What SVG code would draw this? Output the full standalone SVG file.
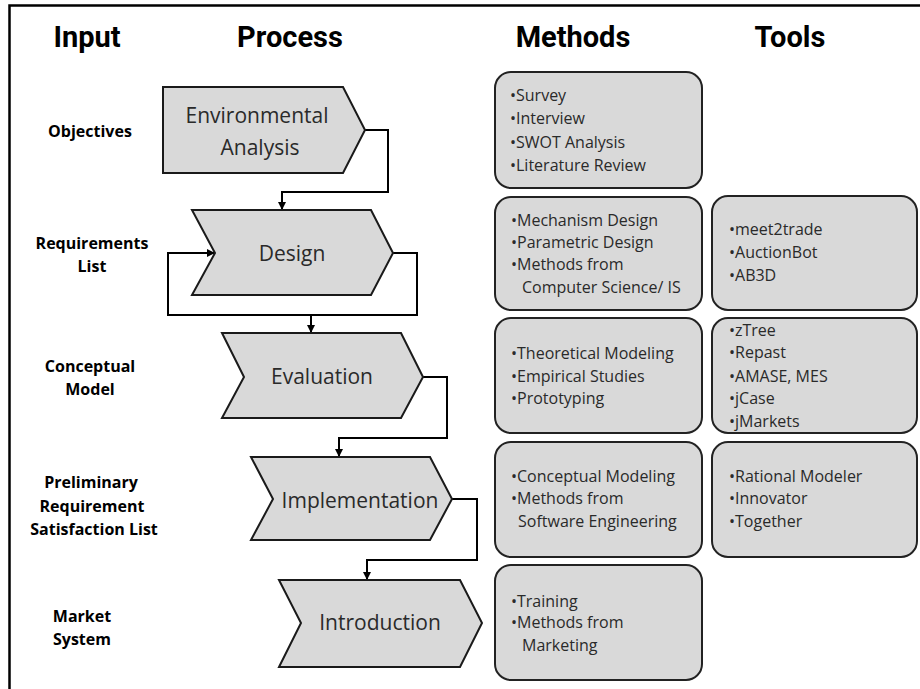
<svg xmlns="http://www.w3.org/2000/svg" width="920" height="689" viewBox="0 0 920 689">
<defs>
<marker id="arr" viewBox="0 0 10 10" refX="10" refY="5" markerWidth="8" markerHeight="8" markerUnits="userSpaceOnUse" orient="auto">
<path d="M0,0 L10,5 L0,10 z" fill="#000"/>
</marker>
</defs>
<style>
.hdr{font-family:Roboto,"Liberation Sans",sans-serif;font-weight:bold;font-size:29px;fill:#000;text-anchor:middle}
.lbl{font-family:"Open Sans","DejaVu Sans",sans-serif;font-weight:bold;font-size:16px;fill:#000;text-anchor:middle}
.proc{fill:#d9d9d9;stroke:#1a1a1a;stroke-width:2;stroke-linejoin:miter}
.ptxt{font-family:"Open Sans","DejaVu Sans",sans-serif;font-size:21px;fill:#2a2a2a;text-anchor:middle}
.box{fill:#d9d9d9;stroke:#222;stroke-width:2}
.btxt{font-family:"Open Sans","DejaVu Sans",sans-serif;font-size:16px;fill:#2a2a2a}
.con{fill:none;stroke:#000;stroke-width:2}
</style>
<rect width="920" height="689" fill="#fff"/>
<path d="M9.5,689 V5.5 H920" fill="none" stroke="#000" stroke-width="2.5"/>

<g id="headers">
<text class="hdr" x="87" y="47">Input</text>
<text class="hdr" x="290" y="47">Process</text>
<text class="hdr" x="573" y="47">Methods</text>
<text class="hdr" x="790" y="47">Tools</text>
</g>

<g id="inputs">
<text class="lbl" x="90" y="137">Objectives</text>
<text class="lbl" x="92" y="249">Requirements</text>
<text class="lbl" x="92" y="272">List</text>
<text class="lbl" x="90" y="372">Conceptual</text>
<text class="lbl" x="90" y="395">Model</text>
<text class="lbl" x="91" y="488">Preliminary</text>
<text class="lbl" x="92" y="512">Requirement</text>
<text class="lbl" x="94" y="535">Satisfaction List</text>
<text class="lbl" x="82" y="622">Market</text>
<text class="lbl" x="82" y="645">System</text>
</g>

<g id="connectors">
<path class="con" d="M365,130 H388 V192 H282 V210" marker-end="url(#arr)"/>
<path class="con" d="M393,253 H417 V315 H168 V253 H215" marker-end="url(#arr)"/>
<path class="con" d="M311,315 V333" marker-end="url(#arr)"/>
<path class="con" d="M423,377 H447 V438 H339 V457" marker-end="url(#arr)"/>
<path class="con" d="M452,499 H477 V560 H367 V580" marker-end="url(#arr)"/>
</g>

<g id="env">
<path class="proc" d="M163,87 H343 L365,130 L343,173 H163 Z"/>
<text class="ptxt" x="257" y="123">Environmental</text>
<text class="ptxt" x="260" y="155">Analysis</text>
</g>
<g id="design">
<path class="proc" d="M192,210 H371 L393,253 L371,295 H192 L215,253 Z"/>
<text class="ptxt" x="292" y="261">Design</text>
</g>
<g id="evaluation">
<path class="proc" d="M222,333 H401 L423,377 L401,418 H222 L244,377 Z"/>
<text class="ptxt" x="322" y="384">Evaluation</text>
</g>
<g id="implementation">
<path class="proc" d="M251,457 H430 L452,499 L430,540 H251 L273,499 Z"/>
<text class="ptxt" x="360" y="508">Implementation</text>
</g>
<g id="introduction">
<path class="proc" d="M279,580 H460 L482,623 L460,667 H279 L301,623 Z"/>
<text class="ptxt" x="380" y="630">Introduction</text>
</g>

<g id="methods-env">
<rect class="box" x="495" y="72" width="207" height="116" rx="16"/>
<text class="btxt" x="510" y="101">•Survey</text>
<text class="btxt" x="510" y="124">•Interview</text>
<text class="btxt" x="510" y="148">•SWOT Analysis</text>
<text class="btxt" x="510" y="171">•Literature Review</text>
</g>
<g id="methods-design">
<rect class="box" x="495" y="197" width="207" height="113" rx="16"/>
<text class="btxt" x="511" y="226">•Mechanism Design</text>
<text class="btxt" x="511" y="248">•Parametric Design</text>
<text class="btxt" x="511" y="270">•Methods from</text>
<text class="btxt" x="522" y="293">Computer Science/ IS</text>
</g>
<g id="tools-design">
<rect class="box" x="712" y="196" width="205" height="114" rx="16"/>
<text class="btxt" x="729" y="235">•meet2trade</text>
<text class="btxt" x="729" y="258">•AuctionBot</text>
<text class="btxt" x="729" y="281">•AB3D</text>
</g>
<g id="methods-eval">
<rect class="box" x="495" y="318" width="207" height="115" rx="16"/>
<text class="btxt" x="511" y="359">•Theoretical Modeling</text>
<text class="btxt" x="511" y="382">•Empirical Studies</text>
<text class="btxt" x="511" y="404">•Prototyping</text>
</g>
<g id="tools-eval">
<rect class="box" x="712" y="318" width="205" height="115" rx="16"/>
<text class="btxt" x="729" y="336">•zTree</text>
<text class="btxt" x="729" y="358">•Repast</text>
<text class="btxt" x="729" y="382">•AMASE, MES</text>
<text class="btxt" x="729" y="404">•jCase</text>
<text class="btxt" x="729" y="427">•jMarkets</text>
</g>
<g id="methods-impl">
<rect class="box" x="495" y="442" width="207" height="115" rx="16"/>
<text class="btxt" x="511" y="482">•Conceptual Modeling</text>
<text class="btxt" x="511" y="504">•Methods from</text>
<text class="btxt" x="518" y="527">Software Engineering</text>
</g>
<g id="tools-impl">
<rect class="box" x="712" y="442" width="205" height="115" rx="16"/>
<text class="btxt" x="729" y="482">•Rational Modeler</text>
<text class="btxt" x="729" y="504">•Innovator</text>
<text class="btxt" x="729" y="527">•Together</text>
</g>
<g id="methods-intro">
<rect class="box" x="495" y="565" width="207" height="115" rx="16"/>
<text class="btxt" x="511" y="607">•Training</text>
<text class="btxt" x="511" y="628">•Methods from</text>
<text class="btxt" x="522" y="651">Marketing</text>
</g>
</svg>
